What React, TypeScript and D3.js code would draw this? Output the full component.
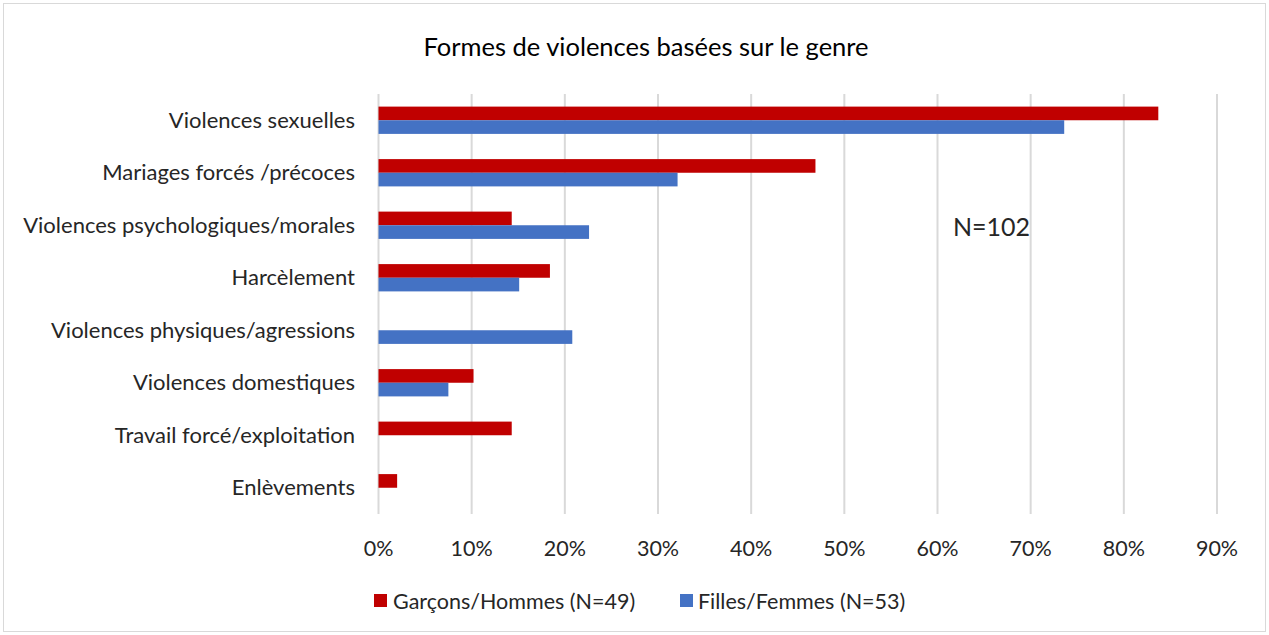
import React from 'react';
import * as d3 from 'd3';

const categories = [
  'Violences sexuelles',
  'Mariages forcés /précoces',
  'Violences psychologiques/morales',
  'Harcèlement',
  'Violences physiques/agressions',
  'Violences domestiques',
  'Travail forcé/exploitation',
  'Enlèvements',
];
const garcons = [83.7, 46.9, 14.3, 18.4, 0, 10.2, 14.3, 2.0];
const filles = [73.6, 32.1, 22.6, 15.1, 20.8, 7.5, 0, 0];
const xTicks = [0, 10, 20, 30, 40, 50, 60, 70, 80, 90];
const seriesNames = ['Garçons/Hommes (N=49)', 'Filles/Femmes (N=53)'];
const colors = ['#C00000', '#4472C4'];

const W = 1269;
const H = 635;
const FONT = "Lato, Carlito, 'Noto Sans', sans-serif";

export default function App() {
  const x = d3.scaleLinear().domain([0, 90]).range([378.5, 1217]);
  const y = d3.scaleBand<string>().domain(categories).range([94, 514]).paddingInner(0.48).paddingOuter(0.24);
  const sub = d3.scaleBand<number>().domain([0, 1]).range([0, y.bandwidth()]);
  const series = [garcons, filles];

  return (
    <svg width={W} height={H} style={{ position: 'absolute', left: 0, top: 0, background: '#fff' }} fontFamily={FONT}>
      <rect x={3.5} y={3.5} width={W - 7} height={H - 7} fill="#fff" stroke="#d9d9d9" strokeWidth={1} />
      <text x={646} y={56} textAnchor="middle" fontSize={25.5} fill="#000">Formes de violences basées sur le genre</text>
      {xTicks.map((t) => (
        <line key={t} x1={x(t)} x2={x(t)} y1={94} y2={514} stroke="#d9d9d9" strokeWidth={2} />
      ))}
      {categories.map((c, i) => (
        <g key={c}>
          {series.map((s, j) =>
            s[i] > 0 ? (
              <rect key={j} x={x(0)} y={(y(c) ?? 0) + (sub(j) ?? 0)} width={x(s[i]) - x(0)} height={sub.bandwidth()} fill={colors[j]} />
            ) : null
          )}
          <text x={355} y={(y(c) ?? 0) + y.bandwidth() / 2} dy="0.35em" textAnchor="end" fontSize={22} fill="#262626">{c}</text>
        </g>
      ))}
      {xTicks.map((t) => (
        <text key={t} x={x(t)} y={556} textAnchor="middle" fontSize={21.5} fill="#262626">{t}%</text>
      ))}
      <text x={953} y={236} fontSize={25} fill="#262626">N=102</text>
      <g fontSize={21.5} fill="#262626">
        <rect x={374} y={594} width={13} height={13} fill={colors[0]} />
        <text x={393} y={609}>{seriesNames[0]}</text>
        <rect x={680} y={594} width={13} height={13} fill={colors[1]} />
        <text x={698} y={609}>{seriesNames[1]}</text>
      </g>
    </svg>
  );
}
